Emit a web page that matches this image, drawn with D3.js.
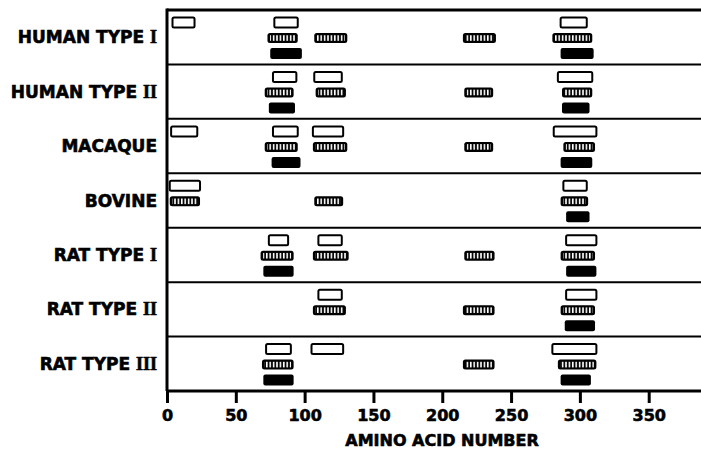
<!DOCTYPE html>
<html lang="en">
<head>
<meta charset="UTF-8">
<title>Amino acid regions</title>
<script src="https://cdnjs.cloudflare.com/ajax/libs/d3/7.8.5/d3.min.js"></script>
<style>
  * { margin: 0; padding: 0; }
  body { background: #fff; }
  .lbl { font-family: "DejaVu Sans", sans-serif; font-weight: bold; fill: #000; stroke: #000; stroke-width: 0.6px; }
  .roman { font-family: "Liberation Serif", serif; font-weight: bold; }
</style>
</head>
<body>
<svg id="chart" width="701" height="453"></svg>
<script>
// rows, top to bottom
var species = ['HUMAN TYPE |I', 'HUMAN TYPE |II', 'MACAQUE', 'BOVINE', 'RAT TYPE |I', 'RAT TYPE |II', 'RAT TYPE |III'];

// [start, end] in amino acid numbers, one list per row
var openSegs = [
  [[4, 20], [78, 95], [286, 305]],
  [[77, 94], [107, 127], [284, 309]],
  [[3, 22], [77, 95], [106, 128], [281, 312]],
  [[2, 24], [288, 305]],
  [[74, 88], [110, 127], [290, 312]],
  [[110, 127], [290, 312]],
  [[72, 90], [105, 128], [280, 312]]
];
var hatchedSegs = [
  [[73, 95], [107, 131], [215, 239], [280, 309]],
  [[71, 92], [108, 130], [216, 237], [287, 309]],
  [[71, 95], [106, 131], [216, 237], [288, 311]],
  [[2, 24], [107, 128], [286, 306]],
  [[68, 92], [106, 132], [216, 238], [286, 311]],
  [[106, 130], [215, 238], [286, 311]],
  [[69, 92], [215, 238], [284, 312]]
];
var solidSegs = [
  [[75, 98], [286, 310]],
  [[74, 93], [287, 307]],
  [[76, 97], [286, 309]],
  [[290, 307]],
  [[70, 92], [290, 312]],
  [[289, 311]],
  [[70, 92], [286, 308]]
];
var xTicks = [0, 50, 100, 150, 200, 250, 300, 350];
var tracks = ['open', 'hatched', 'solid'];

var W = 701, H = 453;
var plotLeft = 167, plotTop = 10, plotBottom = 391;

var svg = d3.select('#chart');

var defs = svg.append('defs');
var pat = defs.append('pattern')
  .attr('id', 'hatch')
  .attr('patternUnits', 'userSpaceOnUse')
  .attr('width', 3.4).attr('height', 20);
pat.append('rect').attr('width', 3.4).attr('height', 20).attr('fill', '#000');
pat.append('rect').attr('x', 0.8).attr('width', 1.6).attr('height', 20).attr('fill', '#fff');

var x = d3.scaleLinear().domain([0, 388]).range([plotLeft, W]);
var y = d3.scaleBand().domain(species).range([plotTop, plotBottom]);
var t = d3.scalePoint().domain(tracks).range([y.bandwidth() * 0.23, y.bandwidth() * 0.8]);

// row separators
svg.append('g').selectAll('line')
  .data(species.slice(1))
  .enter().append('line')
  .attr('x1', plotLeft).attr('x2', W)
  .attr('y1', function(d) { return y(d); })
  .attr('y2', function(d) { return y(d); })
  .attr('stroke', '#000').attr('stroke-width', 2);

// top border and left border
svg.append('line').attr('x1', plotLeft).attr('x2', W).attr('y1', plotTop).attr('y2', plotTop)
  .attr('stroke', '#000').attr('stroke-width', 3);
svg.append('line').attr('x1', plotLeft).attr('x2', plotLeft).attr('y1', plotTop - 1.5).attr('y2', plotBottom)
  .attr('stroke', '#000').attr('stroke-width', 3);

function flat(arr, track) {
  var out = [];
  arr.forEach(function(segs, i) {
    segs.forEach(function(s) { out.push({ row: species[i], a: s[0], b: s[1], track: track }); });
  });
  return out;
}

var rh = 10;
function ry(d) { return y(d.row) + t(d.track) - rh / 2; }

// open boxes
svg.append('g').selectAll('rect')
  .data(flat(openSegs, 'open'))
  .enter().append('rect')
  .attr('x', function(d) { return x(d.a); })
  .attr('y', ry)
  .attr('width', function(d) { return x(d.b) - x(d.a); })
  .attr('height', rh)
  .attr('rx', 1.5)
  .attr('fill', '#fff').attr('stroke', '#000').attr('stroke-width', 2);

// hatched boxes
var hg = svg.append('g').selectAll('g')
  .data(flat(hatchedSegs, 'hatched'))
  .enter().append('g');
hg.append('rect')
  .attr('x', function(d) { return x(d.a); })
  .attr('y', ry)
  .attr('width', function(d) { return x(d.b) - x(d.a); })
  .attr('height', rh)
  .attr('rx', 2.5)
  .attr('fill', '#000');
hg.append('rect')
  .attr('x', function(d) { return x(d.a) + 2.5; })
  .attr('y', function(d) { return ry(d) + 2.2; })
  .attr('width', function(d) { return x(d.b) - x(d.a) - 5; })
  .attr('height', rh - 4.4)
  .attr('fill', 'url(#hatch)');

// solid boxes
svg.append('g').selectAll('rect')
  .data(flat(solidSegs, 'solid'))
  .enter().append('rect')
  .attr('x', function(d) { return x(d.a); })
  .attr('y', function(d) { return ry(d) - 0.5; })
  .attr('width', function(d) { return x(d.b) - x(d.a); })
  .attr('height', rh + 1)
  .attr('rx', 2)
  .attr('fill', '#000');

// row labels
var lab = svg.append('g').selectAll('text')
  .data(species)
  .enter().append('text')
  .attr('class', 'lbl')
  .attr('x', 157)
  .attr('y', function(d) { return y(d) + y.bandwidth() / 2; })
  .attr('dy', '0.36em')
  .attr('text-anchor', 'end')
  .attr('font-size', 17);
lab.append('tspan').text(function(d) { return d.split('|')[0]; });
lab.append('tspan').attr('class', 'roman').attr('font-size', 18)
  .text(function(d) { return d.split('|')[1] || ''; });

// x axis
var xAxis = d3.axisBottom(x).tickValues(xTicks).tickSize(12).tickPadding(7);
var ax = svg.append('g')
  .attr('transform', 'translate(0,' + plotBottom + ')')
  .call(xAxis);
ax.select('.domain').attr('stroke', '#000').attr('stroke-width', 3)
  .attr('d', 'M' + plotLeft + ',0H' + W);
ax.selectAll('.tick line').attr('stroke', '#000').attr('stroke-width', 3);
ax.selectAll('.tick text')
  .attr('class', 'lbl')
  .attr('font-size', 16)
  .attr('fill', '#000');

svg.append('text')
  .attr('class', 'lbl')
  .attr('x', 442).attr('y', 446)
  .attr('text-anchor', 'middle')
  .attr('font-size', 16)
  .text('AMINO ACID NUMBER');
</script>
</body>
</html>
